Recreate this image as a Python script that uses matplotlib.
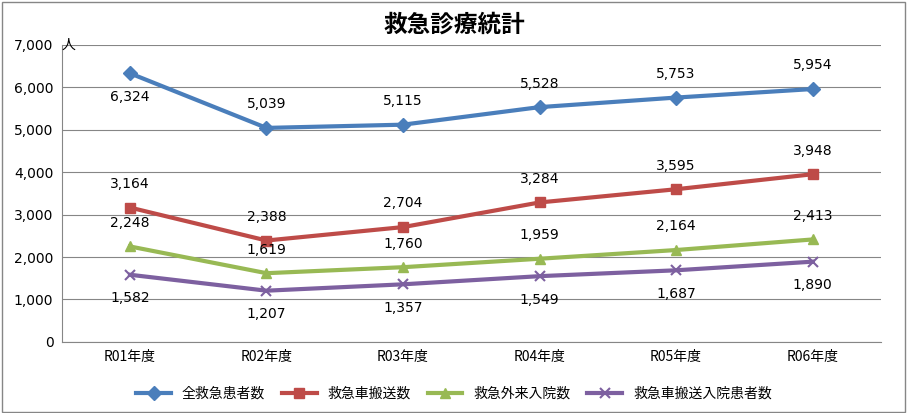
import matplotlib.pyplot as plt

plt.rcParams['font.family'] = 'Noto Sans CJK JP'

years = ['R01年度', 'R02年度', 'R03年度', 'R04年度', 'R05年度', 'R06年度']
all_patients = [6324, 5039, 5115, 5528, 5753, 5954]
ambulance = [3164, 2388, 2704, 3284, 3595, 3948]
outpatient_admit = [2248, 1619, 1760, 1959, 2164, 2413]
ambulance_admit = [1582, 1207, 1357, 1549, 1687, 1890]

series = [
    ('全救急患者数', all_patients, '#4A7EBB', 'D', [-1, 1, 1, 1, 1, 1]),
    ('救急車搬送数', ambulance, '#BE4B48', 's', [1, 1, 1, 1, 1, 1]),
    ('救急外来入院数', outpatient_admit, '#98B954', '^', [1, 1, 1, 1, 1, 1]),
    ('救急車搬送入院患者数', ambulance_admit, '#7D60A0', 'x', [-1, -1, -1, -1, -1, -1]),
]

fig = plt.figure(figsize=(9.08, 4.13), dpi=100)
ax = fig.add_axes([0.068, 0.172, 0.902, 0.72])
x = range(len(years))

for name, vals, color, marker, pos in series:
    ax.plot(x, vals, color=color, lw=3, marker=marker, markersize=7,
            mew=1.5 if marker == 'x' else 1, label=name)
    for i, v in enumerate(vals):
        ax.annotate(f'{v:,}', (i, v), xytext=(0, 17 * pos[i]), textcoords='offset points',
                    ha='center', va='center', fontsize=10, family='DejaVu Sans')

ax.set_xlim(-0.5, 5.5)
ax.set_ylim(0, 7000)
ax.set_yticks(range(0, 7001, 1000))
ax.set_yticklabels([f'{v:,}' for v in range(0, 7001, 1000)], family='DejaVu Sans', fontsize=10)
ax.set_xticks(list(x))
ax.set_xticklabels(years, fontsize=10)
ax.grid(axis='y', color='#868686', lw=0.8)
ax.set_axisbelow(True)
for s in ['top', 'right']:
    ax.spines[s].set_visible(False)
ax.spines['left'].set_color('#868686')
ax.spines['bottom'].set_color('#868686')
ax.tick_params(length=0, pad=6)
ax.text(-0.5, 7000, '人', fontsize=10, ha='left', va='center', transform=ax.transData,
        clip_on=False)

fig.suptitle('救急診療統計', fontsize=17, fontweight='bold', y=0.97)
fig.legend(loc='lower center', ncol=4, frameon=False, fontsize=10,
           bbox_to_anchor=(0.5, 0.0), handlelength=2.5, columnspacing=1.2)
fig.patches.append(plt.Rectangle((0.002, 0.003), 0.995, 0.993, transform=fig.transFigure,
                                 fill=False, ec='#868686', lw=1))
fig.savefig('out.png', dpi=100)
